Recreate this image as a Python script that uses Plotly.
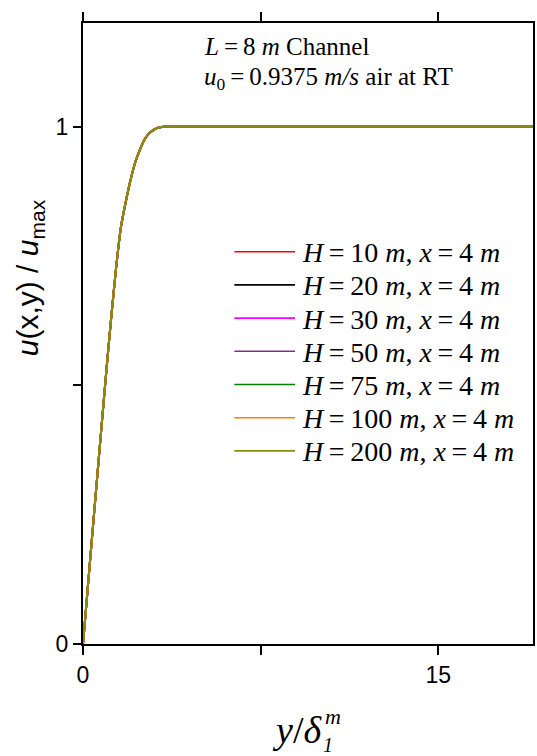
import plotly.graph_objects as go

# Normalised streamwise velocity profile across the boundary layer
y_delta = [0, 0.2, 0.4, 0.6, 0.8, 1.0, 1.2, 1.4, 1.6, 1.8, 2.0, 2.2, 2.4, 2.6,
           2.8, 3.0, 3.2, 3.5, 4.0, 6.0, 10.0, 15.0, 19.0]
u_ratio = [0, 0.108, 0.216, 0.323, 0.43, 0.535, 0.635, 0.728, 0.805, 0.853,
           0.895, 0.93, 0.955, 0.975, 0.987, 0.994, 0.998, 1.0, 1.0, 1.0, 1.0,
           1.0, 1.0]

heights = [10, 20, 30, 50, 75, 100, 200]
colors = ["#ff0000", "#000000", "#ff00ff", "#8b2a8b", "#008000", "#ff8000", "#8a8a10"]
x_tick_vals = [0, 15]
x_minor_vals = [7.5]
y_tick_vals = [0, 1]
y_minor_vals = [0.5]

W, H = 537, 756
L, R, T, B = 83, 535, 23, 644


def px(x):
    return (x - L) / (R - L)


def py(y):
    return (B - y) / (B - T)


fig = go.Figure()
for h, c in zip(heights, colors):
    fig.add_trace(go.Scatter(x=y_delta, y=u_ratio, mode="lines",
                             line=dict(color=c, width=2, shape="spline", smoothing=0.6),
                             name=f"H = {h} m, x = 4 m", showlegend=False))

serif = "Liberation Serif"
TS = "\u2009"  # thin space around the equals signs
annotations = []
shapes = []

# legend rows
for i, (h, c) in enumerate(zip(heights, colors)):
    yc = 251.7 + 33.2 * i
    shapes.append(dict(type="line", xref="paper", yref="paper",
                       x0=px(235), x1=px(296), y0=py(yc), y1=py(yc),
                       line=dict(color=c, width=1.6)))
    annotations.append(dict(
        xref="paper", yref="paper", x=px(301), y=py(yc + 1),
        xanchor="left", yanchor="middle", showarrow=False,
        text=f"<i>H</i>{TS}={TS}{h} <i>m</i>, <i>x</i>{TS}={TS}4 <i>m</i>",
        font=dict(family=serif, size=28, color="black")))

# case description
annotations.append(dict(
    xref="paper", yref="paper", x=px(203), y=py(46),
    xanchor="left", yanchor="middle", showarrow=False,
    text=f"<i>L</i>{TS}={TS}8 <i>m</i> Channel",
    font=dict(family=serif, size=25, color="black")))
annotations.append(dict(
    xref="paper", yref="paper", x=px(203), y=py(79),
    xanchor="left", yanchor="middle", showarrow=False,
    text=f"<i>u</i><sub>0</sub>{TS}={TS}0.9375 <i>m/s</i> air at RT",
    font=dict(family=serif, size=25, color="black")))

# axis titles
annotations.append(dict(
    xref="paper", yref="paper", x=px(29), y=py(278),
    xanchor="center", yanchor="middle", showarrow=False, textangle=-90,
    text="<i>u</i>(x,y) / <i>u</i><sub>max</sub>",
    font=dict(family="Liberation Sans", size=30, color="black")))
annotations.append(dict(
    xref="paper", yref="paper", x=px(325), y=py(730),
    xanchor="right", yanchor="middle", showarrow=False,
    text="<i>y</i>/<i>δ</i>",
    font=dict(family=serif, size=38, color="black")))
annotations.append(dict(
    xref="paper", yref="paper", x=px(322), y=py(745),
    xanchor="left", yanchor="middle", showarrow=False,
    text="<i>1</i>",
    font=dict(family=serif, size=20, color="black")))
annotations.append(dict(
    xref="paper", yref="paper", x=px(324), y=py(716),
    xanchor="left", yanchor="middle", showarrow=False,
    text="<i>m</i>",
    font=dict(family=serif, size=22, color="black")))

fig.update_layout(
    width=W, height=H, autosize=False,
    margin=dict(l=L, r=W - R, t=T, b=H - B),
    paper_bgcolor="white", plot_bgcolor="white",
    annotations=annotations, shapes=shapes,
    font=dict(family="Liberation Sans", color="black"),
)
fig.update_xaxes(range=[0, 19], tickvals=x_tick_vals,
                 ticks="outside", ticklen=9, tickwidth=1.5, tickcolor="black",
                 minor=dict(tickvals=x_minor_vals, ticks="outside", ticklen=9,
                            tickwidth=1.5, tickcolor="black", showgrid=False),
                 showline=True, linecolor="black", linewidth=2, mirror="ticks",
                 showgrid=False, zeroline=False,
                 tickfont=dict(family="Liberation Sans", size=23, color="black"))
fig.update_yaxes(range=[0, 1.2], tickvals=y_tick_vals,
                 ticks="outside", ticklen=8, tickwidth=1.5, tickcolor="black",
                 minor=dict(tickvals=y_minor_vals, ticks="outside", ticklen=8,
                            tickwidth=1.5, tickcolor="black", showgrid=False),
                 showline=True, linecolor="black", linewidth=2, mirror=True,
                 showgrid=False, zeroline=False,
                 tickfont=dict(family="Liberation Sans", size=23, color="black"))

fig.write_html("out.html")
